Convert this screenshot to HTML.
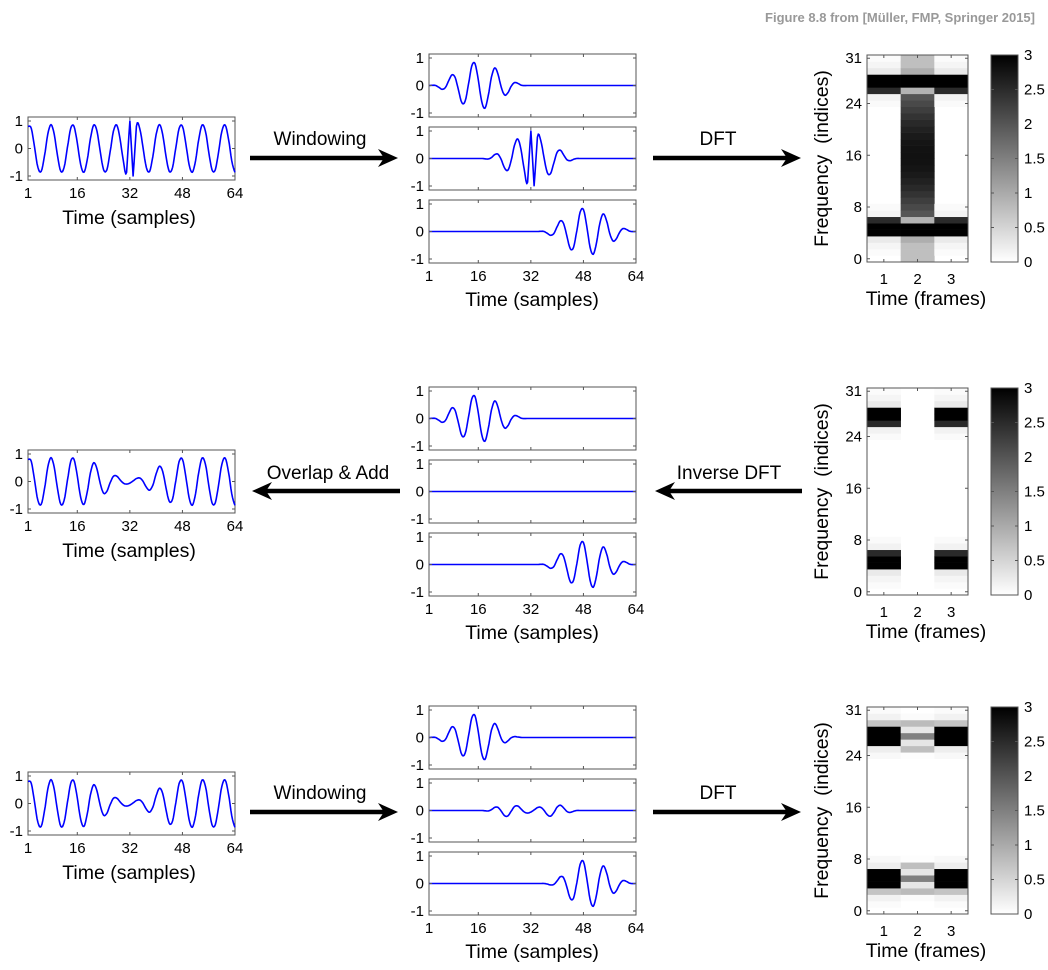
<!DOCTYPE html>
<html><head><meta charset="utf-8">
<style>
html,body{margin:0;padding:0;background:#fff;}
svg{display:block;font-family:"Liberation Sans",Arial,sans-serif;}
</style></head>
<body>
<svg id="s" width="1048" height="970" viewBox="0 0 1048 970" xmlns="http://www.w3.org/2000/svg">
<text x="1035" y="22" text-anchor="end" font-size="13" font-weight="bold" fill="#999">Figure 8.8 from [Müller, FMP, Springer 2015]</text>
</svg>
<script>
var S=document.getElementById('s');var out='';
function T(x,y,t,sz,anc,extra){out+='<text x="'+x+'" y="'+y+'" font-size="'+sz+'" text-anchor="'+(anc||'middle')+'" '+(extra||'')+'>'+t+'</text>';}
function R(x,y,w,h,f,st){out+='<rect x="'+x+'" y="'+y+'" width="'+w+'" height="'+h+'" fill="'+f+'"'+(st?' stroke="'+st+'" stroke-width="1"':'')+'/>';}
function L(a,b,c,d,st,w){out+='<line x1="'+a+'" y1="'+b+'" x2="'+c+'" y2="'+d+'" stroke="'+(st||'#000')+'" stroke-width="'+(w||1)+'"/>';}
var x=[],y=[];
for(var n=1;n<=64;n++){x[n]=0.87*Math.cos(2*Math.PI*(n-1.4)/6.6);}
var x0=x.slice();
x[32]=1;x[33]=-1;
function hann(n,c,h){var d=n-c;return Math.abs(d)<h?0.5*(1+Math.cos(Math.PI*d/h)):0;}
for(var n=1;n<=64;n++){y[n]=x0[n]*(1-0.9*hann(n,32,16));}
function win(s,c,h){var r=[];for(var n=1;n<=64;n++)r[n]=s[n]*hann(n,c,h);return r;}
var C=[16,32,49],H=15;
var zero=[];for(var n=1;n<=64;n++)zero[n]=0;
function val(d,n){if(n<1)n=1;if(n>64)n=64;return d[n];}
function plot(bx,by,bw,bh,d,xt){
  var cy=by+bh/2,sc=27.5;
  R(bx,by,bw,bh,'#fff','#555');
  var pts='';
  for(var n=1;n<=64;n++){
    var steps=(n==64)?1:4;
    for(var s=0;s<steps;s++){
      var t=s/4;
      var p0=val(d,n-1),p1=val(d,n),p2=val(d,n+1),p3=val(d,n+2);
      var v=0.5*((2*p1)+(-p0+p2)*t+(2*p0-5*p1+4*p2-p3)*t*t+(-p0+3*p1-3*p2+p3)*t*t*t);
      if((n==32||n==33)&&d[32]==1)v=p1+(p2-p1)*t;
      if(n==31&&d[32]==1)v=p1+(p2-p1)*t;
      pts+=(bx+(n-1+t)/63*bw).toFixed(1)+','+(cy-v*sc).toFixed(1)+' ';
    }
  }
  out+='<polyline points="'+pts+'" fill="none" stroke="#0000ff" stroke-width="1.6" stroke-linejoin="round"/>';
  [1,0,-1].forEach(function(v){var yy=cy-v*sc;T(bx-5,yy+5,v==-1?'-1':v,15,'end');L(bx,yy,bx+3,yy,'#555');L(bx+bw,yy,bx+bw-3,yy,'#555');});
  [1,16,32,48,64].forEach(function(v){var xx=bx+(v-1)/63*bw;L(xx,by+bh,xx,by+bh-3,'#555');L(xx,by,xx,by+3,'#555');if(xt)T(xx,by+bh+18,v,15);});
}
function gray(v){var g=Math.round(255*(1-Math.min(3,Math.max(0,v))/3));return 'rgb('+g+','+g+','+g+')';}
function mirror(top){var a=[];for(var k=0;k<32;k++)a[k]=0;for(var k in top){a[k]=top[k];var m=32-k;if(m>=0&&m<32&&m!=k)a[m]=top[k];}return a;}
var c1={31:0.05,30:0.12,29:0.25,28:3,27:3,26:2.5,25:0.15,24:0.06};
var c2a={26:0.9,28:3,27:3};for(var k=7;k<=25;k++){c2a[k]=2.0+0.8*Math.sin(Math.PI*(k-7)/18);}
var c2=mirror(c2a);c2[31]=0.75;c2[30]=0.75;c2[29]=0.95;c2[3]=0.95;c2[2]=0.75;c2[1]=0.75;c2[0]=0.75;c2[26]=0.9;c2[6]=0.9;c2[16]=2.8;
var c3a={31:0.05,30:0.15,29:0.7,28:3,27:3,26:3,25:0.2,24:0.08};
var c3b={30:0.05,29:0.8,28:0.3,27:1.5,26:0.3,25:0.75,24:0.02};
var specs=[[mirror(c1),c2,mirror(c1)],[mirror(c1),mirror({}),mirror(c1)],[mirror(c3a),mirror(c3b),mirror(c3a)]];
function spec(O,cols){
  var bx=867,by=55+O,bw=101,bh=207,bin=bh/32,cw=bw/3;
  R(bx,by,bw,bh,'#fff');
  for(var c=0;c<3;c++)for(var k=0;k<32;k++){var v=cols[c][k];if(v>0.01)R((bx+c*cw).toFixed(2),(by+bh-(k+1)*bin).toFixed(2),(cw+0.3).toFixed(2),(bin+0.3).toFixed(2),gray(v));}
  R(bx,by,bw,bh,'none','#555');
  [0,8,16,24,31].forEach(function(v){var yy=by+bh-(v+0.5)*bin;T(bx-5,yy+5,v,15,'end');L(bx,yy,bx+3,yy,'#555');L(bx+bw,yy,bx+bw-3,yy,'#555');});
  [1,2,3].forEach(function(v){var xx=bx+(v-0.5)*cw;T(xx,by+bh+22,v,15);L(xx,by+bh,xx,by+bh-3,'#555');L(xx,by,xx,by+3,'#555');});
  T(bx+59,by+bh+43,'Time (frames)',19.5);
  T(0,0,'Frequency&#160;&#160;(indices)',19.5,'middle','transform="translate('+(bx-39)+','+(by+bh/2)+') rotate(-90)"');
  var cx=991,cwid=27;
  out+='<rect x="'+cx+'" y="'+by+'" width="'+cwid+'" height="'+bh+'" fill="url(#cb)" stroke="#555" stroke-width="1"/>';
  [0,0.5,1,1.5,2,2.5,3].forEach(function(v){var yy=by+bh-v/3*bh;T(cx+cwid+6,yy+5,v,15,'start');L(cx+cwid,yy,cx+cwid-3,yy,'#555');L(cx,yy,cx+3,yy,'#555');});
}
function arrow(xa,xb,yy){
  var dir=xb>xa?1:-1;var hl=20;
  L(xa,yy,xb-dir*12,yy,'#000',4.5);
  out+='<path d="M'+xb+','+yy+' L'+(xb-dir*hl)+','+(yy-9)+' L'+(xb-dir*14)+','+yy+' L'+(xb-dir*hl)+','+(yy+9)+' Z" fill="#000"/>';
}
out+='<defs><linearGradient id="cb" x1="0" y1="1" x2="0" y2="0"><stop offset="0" stop-color="#fff"/><stop offset="1" stop-color="#000"/></linearGradient></defs>';
var O=[0,333,652];
var mids=[[win(x,C[0],H),win(x,C[1],H),win(x,C[2],H)],[win(x,C[0],H),zero,win(x,C[2],H)],[win(y,C[0],H),win(y,C[1],H),win(y,C[2],H)]];
var lefts=[x,y,y];
for(var r=0;r<3;r++){
  var o=O[r];
  plot(28,117+o+(r==2?3:0),207,63,lefts[r],true);
  T(129,224+o+(r==2?3:0),'Time (samples)',19.5);
  var tops=[54,127,200];
  for(var p=0;p<3;p++)plot(429,tops[p]+o,207,63,mids[r][p],p==2);
  T(532,306+o,'Time (samples)',19.5);
  spec(o,specs[r]);
}
arrow(250,398,158);T(320,145,'Windowing',19);
arrow(653,801,158);T(718,145,'DFT',19);
arrow(400,252,491);T(328,479,'Overlap &amp; Add',19);
arrow(802,655,491);T(729,479,'Inverse DFT',19);
arrow(250,398,812);T(320,799,'Windowing',19);
arrow(653,801,812);T(718,799,'DFT',19);
S.insertAdjacentHTML('beforeend',out);
</script>
</body></html>
